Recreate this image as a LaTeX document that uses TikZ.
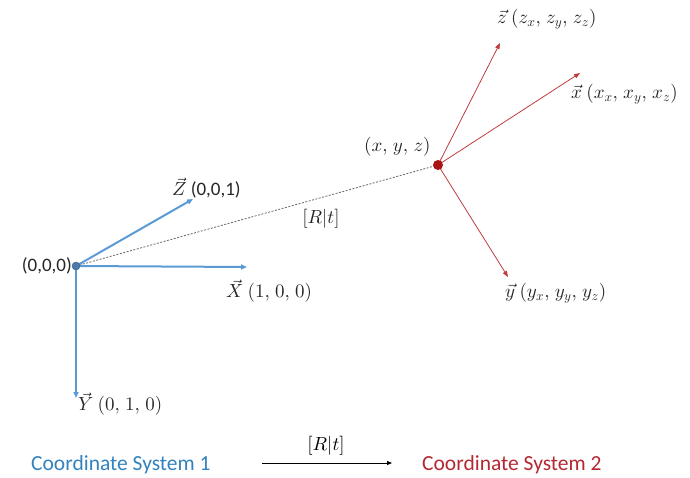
\documentclass[tikz,border=0pt]{standalone}
\usepackage{fontspec}
\setmainfont{Carlito}
\DeclareFontFamily{OML}{cmm}{\skewchar\font127 }
\DeclareFontShape{OML}{cmm}{m}{it}{<->cmmi10}{}
\DeclareFontFamily{OMS}{cmsy}{\skewchar\font48 }
\DeclareFontShape{OMS}{cmsy}{m}{n}{<->cmsy10}{}
\DeclareFontShape{OT1}{cmr}{m}{n}{<->cmr10}{}
\usetikzlibrary{arrows.meta}
\definecolor{cblue}{RGB}{91,155,213}
\definecolor{cred}{RGB}{192,60,60}
\definecolor{dred}{RGB}{170,20,20}
\definecolor{tred}{RGB}{180,40,50}
\definecolor{tblue}{RGB}{50,130,190}
\newcommand{\cm}{,\mkern2mu}
\tikzset{
  bluevec/.style={cblue, line width=2pt, -{Triangle[length=6pt,width=5pt]}},
  redvec/.style={cred, line width=0.8pt, -{Triangle[length=6pt,width=4.5pt]}},
  lbl/.style={inner sep=0pt, font=\fontsize{19}{21}\selectfont, text=black!85},
  captxt/.style={inner sep=0pt, font=\fontsize{21.5}{24}\selectfont},
}
\begin{document}
\begin{tikzpicture}[x=1pt,y=-1pt]
\useasboundingbox (0,0) rectangle (690,478);
% points
\coordinate (O) at (76,266);
\coordinate (P) at (438,165);
\coordinate (Zt) at (193,199);
\coordinate (Xt) at (247,267);
\coordinate (Yt) at (76,398);
\coordinate (zt) at (500,43);
\coordinate (xt) at (580,73);
\coordinate (yt) at (508,277);
% dotted
\draw[black!60, dash pattern=on 2pt off 1.5pt, line width=0.8pt] (O) -- (P);
\node[lbl] (rt1) at (321,219) {$[R|t]$};
% blue vectors
\draw[bluevec] (O) -- (Zt);
\draw[bluevec] (O) -- (Xt);
\draw[bluevec] (O) -- (Yt);
\node[circle, fill=cblue!80!black, draw=cblue!60!black, minimum size=8pt, inner sep=0pt] (Od) at (O) {};
% red vectors
\draw[redvec] (P) -- (zt);
\draw[redvec] (P) -- (xt);
\draw[redvec] (P) -- (yt);
\node[circle, fill=dred, minimum size=10pt, inner sep=0pt] (Pd) at (P) {};
% labels
\node[lbl, anchor=east] (l0) at (72,266) {(0,0,0)};
\node[lbl, anchor=west] (lZ) at (172,188) {$\vec{Z}$ (0,0,1)};
\node[lbl, anchor=west] (lX) at (226,291) {$\vec{X}\ (1\cm0\cm0)$};
\node[lbl, anchor=west] (lY) at (78,404) {$\vec{Y}\ (0\cm1\cm0)$};
\node[lbl, anchor=west] (lp) at (364,147) {$(x\cm y\cm z)$};
\node[lbl, anchor=west] (lz) at (497,19) {$\vec{z}\ (z_x\cm z_y\cm z_z)$};
\node[lbl, anchor=west] (lx) at (571,94) {$\vec{x}\ (x_x\cm x_y\cm x_z)$};
\node[lbl, anchor=west] (ly) at (505,293) {$\vec{y}\ (y_x\cm y_y\cm y_z)$};
% bottom
\node[captxt, text=tblue, anchor=west] (c1) at (31,465) {Coordinate System 1};
\node[captxt, text=tred, anchor=west] (c2) at (422,465) {Coordinate System 2};
\coordinate (a1) at (262,463);
\coordinate (a2) at (392,463);
\draw[black, line width=0.9pt, -{Triangle[length=5pt,width=4pt]}] (a1) -- (a2);
\node[lbl, text=black] (rt2) at (326,446) {$[R|t]$};
\end{tikzpicture}
\end{document}
